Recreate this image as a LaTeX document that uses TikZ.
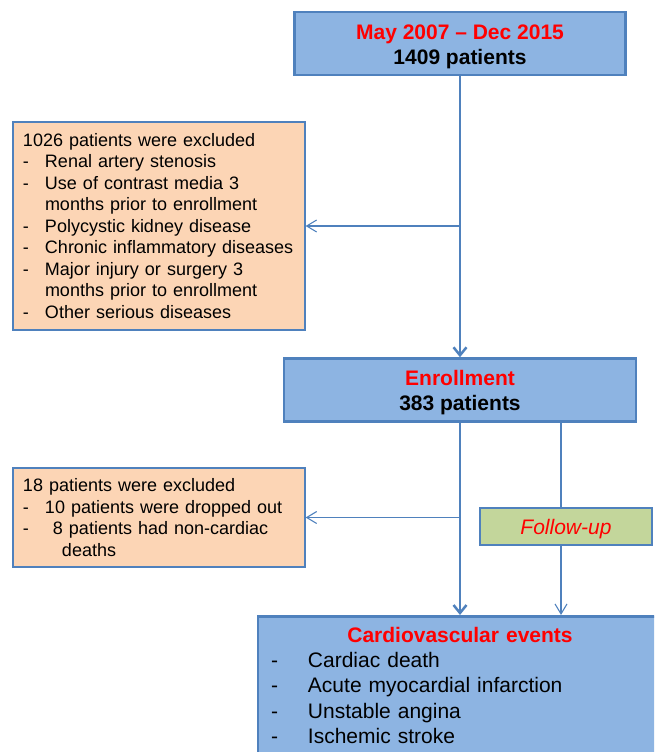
\documentclass[tikz,border=0pt]{standalone}
\usepackage{fontspec}
\setmainfont{Liberation Sans}
\usetikzlibrary{arrows.meta}
\definecolor{boxblue}{HTML}{8DB4E2}
\definecolor{edgeblue}{HTML}{4F81BD}
\definecolor{peach}{HTML}{FCD5B5}
\definecolor{fugreen}{HTML}{C3D69B}
\newcommand{\exdash}{\makebox[22pt][l]{-}}
\newcommand{\cvdash}{\makebox[37pt][l]{-}}
\begin{document}
\begin{tikzpicture}[x=1pt,y=-1pt]
                \tikzset{
                  mainbox/.style={draw=edgeblue, line width=2.5pt, fill=boxblue, align=center,
                    inner sep=0pt, font=\fontsize{21}{25}\selectfont\bfseries},
                  exclbox/.style={draw=edgeblue, line width=1.2pt, fill=peach, align=left,
                    inner xsep=10pt, inner ysep=0pt, text width=272pt, font=\fontsize{18}{21.5}\selectfont},
                  fubox/.style={draw=edgeblue, line width=1.2pt, fill=fugreen, text=red,
                    minimum width=172pt, minimum height=37pt, font=\fontsize{21}{24}\selectfont\itshape},
                  thickline/.style={edgeblue, line width=2.5pt, -{Straight Barb[length=8pt,width=13pt]}},
                  thinline/.style={edgeblue, line width=1.1pt, -{Straight Barb[length=10pt,width=12pt]}}
                }
                \useasboundingbox (0,0) rectangle (654,752);
                \clip (0,0) rectangle (654,752);
                % main column
                \node[mainbox, minimum width=331pt, minimum height=63pt] (period) at (460,43.5)
                  {\rule{0pt}{21pt}\textcolor{red}{May 2007 -- Dec 2015}\\1409 patients};
                \node[mainbox, minimum width=352pt, minimum height=63pt] (enroll) at (460,390)
                  {\rule{0pt}{21pt}\textcolor{red}{Enrollment}\\383 patients};
                \node[mainbox, anchor=north, align=left, text width=378pt, inner xsep=13pt, inner ysep=11pt,
                  font=\fontsize{21}{25.2}\selectfont] (events) at (460,615)
                  {\makebox[\linewidth]{\bfseries\color{red}Cardiovascular events}\\
                   \cvdash Cardiac death\\
                   \cvdash Acute myocardial infarction\\
                   \cvdash Unstable angina\\
                   \cvdash Ischemic stroke\rule[-8pt]{0pt}{8pt}};
                % excluded boxes
                \node[exclbox, minimum height=208pt] (excl1) at (159,226)
                  {1026 patients were excluded\\
                   \exdash Renal artery stenosis\\
                   \exdash Use of contrast media 3\\
                   \hspace*{22pt}months prior to enrollment\\
                   \exdash Polycystic kidney disease\\
                   \exdash Chronic inflammatory diseases\\
                   \exdash Major injury or surgery 3\\
                   \hspace*{22pt}months prior to enrollment\\
                   \exdash Other serious diseases};
                \node[exclbox, minimum height=99pt] (excl2) at (159,517.5)
                  {18 patients were excluded\\
                   \exdash 10 patients were dropped out\\
                   \exdash\hspace*{8pt}8 patients had non-cardiac\\
                   \hspace*{39pt}deaths};
                % connectors
                \draw[thickline] (period.south) -- (enroll.north);
                \draw[thinline] (period.south |- excl1.east) -- (excl1.east);
                \draw[thickline] (enroll.south) -- (events.north);
                \draw[thinline] (enroll.south |- excl2.east) -- (excl2.east);
                \coordinate (fuline) at (561,0);
                \draw[thinline] (fuline |- enroll.south) -- (fuline |- events.north);
                % follow-up
                \node[fubox] (followup) at (566,526.5) {\rule{0pt}{21pt}Follow-up};
            \end{tikzpicture}
\end{document}
